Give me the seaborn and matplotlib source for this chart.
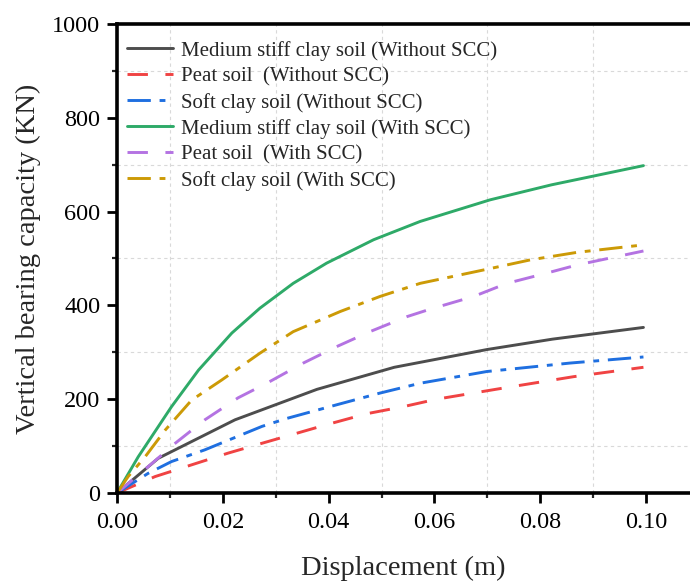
import numpy as np
import pandas as pd
import seaborn as sns
import matplotlib.pyplot as plt
from matplotlib.ticker import MultipleLocator, FormatStrFormatter

# values
med_wo_x = [0, 0.0078, 0.0223, 0.0378, 0.0524, 0.0700, 0.0823, 0.0995]
med_wo_y = [0, 74, 156, 221, 268, 306, 328, 353]

peat_wo_x = [0, 0.0072, 0.0141, 0.0210, 0.0274, 0.0394, 0.0472, 0.0541, 0.0604, 0.0737, 0.0863, 0.0995]
peat_wo_y = [0, 35, 60, 85, 106, 145, 169, 184, 200, 225, 248, 268]

soft_wo_x = [0, 0.0059, 0.0103, 0.0166, 0.0274, 0.0321, 0.0415, 0.0497, 0.0573, 0.0699, 0.0856, 0.0995]
soft_wo_y = [0, 42, 67, 92, 142, 159, 188, 213, 234, 259, 277, 290]

med_w_x = [0, 0.0040, 0.0103, 0.0154, 0.0217, 0.0270, 0.0333, 0.0396, 0.0485, 0.0573, 0.0705, 0.0821, 0.0995]
med_w_y = [0, 77, 184, 262, 341, 394, 447, 490, 540, 579, 625, 657, 698]

peat_w_x = [0, 0.0066, 0.0110, 0.0166, 0.0229, 0.0283, 0.0352, 0.0415, 0.0478, 0.0548, 0.0592, 0.0674, 0.0737, 0.0806, 0.0869, 0.0995]
peat_w_y = [0, 63, 106, 156, 203, 234, 277, 312, 344, 376, 392, 419, 447, 467, 486, 516]

soft_w_x = [0, 0.0021, 0.0053, 0.0091, 0.0141, 0.0198, 0.0270, 0.0333, 0.0422, 0.0497, 0.0573, 0.0699, 0.0781, 0.0869, 0.0995]
soft_w_y = [0, 35, 77, 134, 198, 241, 298, 344, 387, 419, 447, 477, 497, 513, 529]

labels = [
    'Medium stiff clay soil (Without SCC)',
    'Peat soil  (Without SCC)',
    'Soft clay soil (Without SCC)',
    'Medium stiff clay soil (With SCC)',
    'Peat soil  (With SCC)',
    'Soft clay soil (With SCC)',
]
series = [(med_wo_x, med_wo_y), (peat_wo_x, peat_wo_y), (soft_wo_x, soft_wo_y),
          (med_w_x, med_w_y), (peat_w_x, peat_w_y), (soft_w_x, soft_w_y)]
colors = ['#4d4d4d', '#f04343', '#1f6fe0', '#2eaa68', '#b473e2', '#cc9a06']
dash_styles = ['', (7, 6), (8, 3, 2, 3), '', (7, 6), (8, 3, 2, 3)]

frames = []
for lab, (xs, ys) in zip(labels, series):
    frames.append(pd.DataFrame({'Displacement': xs, 'Capacity': ys, 'Series': lab}))
df = pd.concat(frames, ignore_index=True)

sns.set_style('ticks')
plt.rcParams['font.family'] = ['Liberation Serif', 'DejaVu Serif']

fig = plt.figure(figsize=(6.9, 5.81), dpi=100)
ax = fig.add_axes([0.1696, 0.1515, 0.8304, 0.8072])

sns.lineplot(data=df, x='Displacement', y='Capacity', hue='Series', style='Series',
             hue_order=labels, style_order=labels,
             palette=dict(zip(labels, colors)), dashes=dict(zip(labels, dash_styles)),
             sort=False, lw=2.1, ax=ax)

ax.set_xlim(0, 0.1083)
ax.set_ylim(0, 1000)
ax.xaxis.set_major_locator(MultipleLocator(0.02))
ax.xaxis.set_minor_locator(MultipleLocator(0.01))
ax.xaxis.set_major_formatter(FormatStrFormatter('%.2f'))
ax.yaxis.set_major_locator(MultipleLocator(200))
ax.yaxis.set_minor_locator(MultipleLocator(100))

ax.grid(which='minor', color='#d9d9d9', linestyle=(0, (3, 3)), lw=0.8)
ax.grid(which='major', visible=False)

for side in ['left', 'bottom', 'top']:
    ax.spines[side].set_linewidth(2.6)
    ax.spines[side].set_color('black')
ax.spines['right'].set_visible(False)

ax.tick_params(which='major', direction='out', length=7, width=2.0, labelsize=17.5, colors='black')
ax.tick_params(which='minor', direction='out', length=3.8, width=1.6)
ax.tick_params(axis='x', pad=7)
ax.tick_params(axis='y', pad=5)

ax.set_xlabel('Displacement (m)', fontsize=20.5, labelpad=16)
ax.set_ylabel('Vertical bearing capacity (KN)', fontsize=20.5, labelpad=8)

handles, labs = ax.get_legend_handles_labels()
ax.legend(handles, labs, loc='upper left', bbox_to_anchor=(-0.012, 1.0), frameon=False,
          fontsize=15, handlelength=2.2, handletextpad=0.4, labelspacing=0.3,
          borderaxespad=0.4)

fig.savefig('out.png', dpi=100)
